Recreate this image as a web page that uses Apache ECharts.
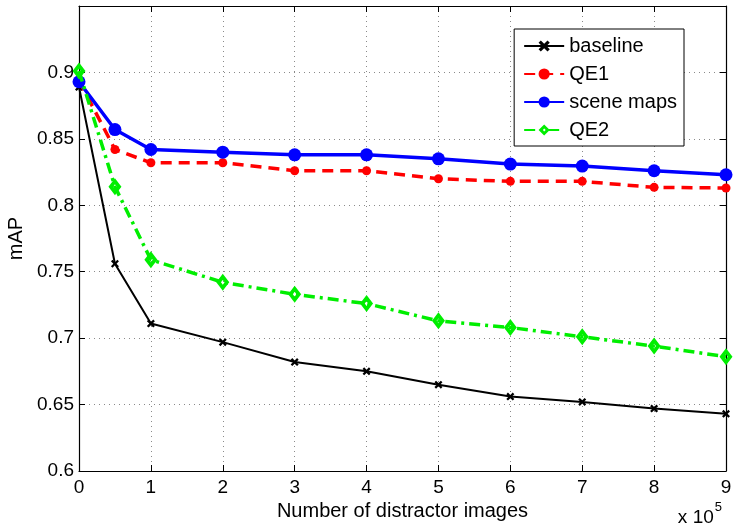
<!DOCTYPE html>
<html>
<head>
<meta charset="utf-8">
<script src="https://cdn.jsdelivr.net/npm/echarts@6/dist/echarts.min.js"></script>
<style>
  html, body { margin: 0; padding: 0; background: #fff; }
  #chart { width: 733px; height: 528px; }
</style>
</head>
<body>
<div id="chart"></div>
<script>
// distractor counts (x 10^5)
const xVals = [0, 0.5, 1, 2, 3, 4, 5, 6, 7, 8, 9];
const baseline = [0.889, 0.756, 0.711, 0.697, 0.682, 0.675, 0.665, 0.656, 0.652, 0.647, 0.643];
const qe1 = [0.894, 0.842, 0.832, 0.832, 0.826, 0.826, 0.820, 0.818, 0.818, 0.8135, 0.813];
const sceneMaps = [0.893, 0.857, 0.842, 0.840, 0.838, 0.838, 0.835, 0.831, 0.8295, 0.826, 0.823];
const qe2 = [0.901, 0.814, 0.759, 0.742, 0.733, 0.726, 0.713, 0.708, 0.701, 0.694, 0.686];
const seriesNames = ['baseline', 'QE1', 'scene maps', 'QE2'];

const font = 'Liberation Sans, Arial, sans-serif';
const pairs = ys => xVals.map((x, i) => [x, ys[i]]);
const xMark = 'path://M0,2L2,0L5,3L8,0L10,2L7,5L10,8L8,10L5,7L2,10L0,8L3,5Z';
// diamond with a small hole in the middle (matlab-ish marker)
const diamondMark = 'path://M5,0L10,7L5,14L0,7Z M5,5L3.6,7L5,9L6.4,7Z';

const chart = echarts.init(document.getElementById('chart'));

const dotted = { show: true, lineStyle: { color: '#8a8a8a', type: [1, 4], width: 1 } };
const axisLine = { show: true, onZero: false, lineStyle: { color: '#000', width: 1.2 } };
const tick = { show: true, inside: true, length: 6, lineStyle: { color: '#000' } };

chart.setOption({
  animation: false,
  textStyle: { fontFamily: font },
  grid: { left: 79, right: 7, top: 6, bottom: 57, outerBoundsMode: 'none', containLabel: false },
  legend: {
    orient: 'vertical',
    right: 49,
    top: 29,
    padding: [7, 7, 6, 9],
    itemGap: 8,
    itemWidth: 40,
    itemHeight: 14,
    borderColor: '#000',
    borderWidth: 1,
    backgroundColor: '#fff',
    data: seriesNames,
    textStyle: { fontFamily: font, fontSize: 20, color: '#000' }
  },
  xAxis: [{
    type: 'value', min: 0, max: 9, interval: 1,
    name: 'Number of distractor images', nameLocation: 'middle', nameGap: 30,
    nameTextStyle: { fontFamily: font, fontSize: 20, color: '#000' },
    axisLine: axisLine,
    axisTick: tick,
    axisLabel: { fontFamily: font, fontSize: 19, color: '#000', margin: 7 },
    splitLine: dotted
  }, {
    type: 'value', min: 0, max: 9, interval: 1, position: 'top',
    axisLine: axisLine,
    axisTick: tick,
    axisLabel: { show: false },
    splitLine: { show: false }
  }],
  yAxis: [{
    type: 'value', min: 0.6, max: 0.95, interval: 0.05,
    name: 'mAP', nameLocation: 'middle', nameGap: 53,
    nameTextStyle: { fontFamily: font, fontSize: 20, color: '#000' },
    axisLine: axisLine,
    axisTick: tick,
    axisLabel: {
      fontFamily: font, fontSize: 19, color: '#000', margin: 5,
      formatter: v => (v > 0.92 ? '' : String(+v.toFixed(2)))
    },
    splitLine: dotted
  }, {
    type: 'value', min: 0.6, max: 0.95, interval: 0.05, position: 'right',
    axisLine: axisLine,
    axisTick: tick,
    axisLabel: { show: false },
    splitLine: { show: false }
  }],
  graphic: [{
    type: 'text', right: 11, bottom: 1,
    style: {
      text: '{b|x 10}{s|5}',
      rich: {
        b: { fontFamily: font, fontSize: 19, fill: '#000', verticalAlign: 'bottom' },
        s: { fontFamily: font, fontSize: 13, fill: '#000', verticalAlign: 'top', padding: [0, 0, 13, 1] }
      }
    }
  }],
  series: [{
    name: 'baseline', type: 'line', data: pairs(baseline), z: 3,
    symbol: xMark, symbolSize: 8,
    itemStyle: { color: '#000' },
    lineStyle: { color: '#000', width: 2 }
  }, {
    name: 'QE1', type: 'line', data: pairs(qe1), z: 4,
    symbol: 'circle', symbolSize: 9,
    itemStyle: { color: '#ff0000' },
    lineStyle: { color: '#ff0000', width: 3.5, type: [11, 7] }
  }, {
    name: 'scene maps', type: 'line', data: pairs(sceneMaps), z: 5,
    symbol: 'circle', symbolSize: 13,
    itemStyle: { color: '#0000ff' },
    lineStyle: { color: '#0000ff', width: 3.5 }
  }, {
    name: 'QE2', type: 'line', data: pairs(qe2), z: 6,
    symbol: diamondMark, symbolSize: [13, 17], symbolKeepAspect: false,
    itemStyle: { color: '#00ee00' },
    lineStyle: { color: '#00ee00', width: 3.5, type: [11, 5, 3, 5] }
  }]
});
</script>
</body>
</html>
